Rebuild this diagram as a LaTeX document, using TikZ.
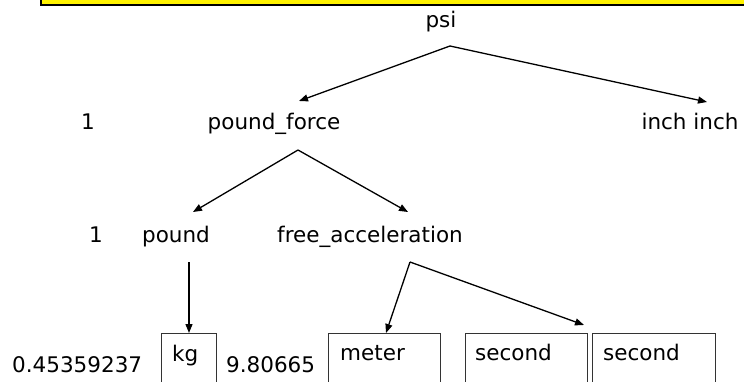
\documentclass[tikz,border=0pt]{standalone}
\usepackage{fontspec}
\setmainfont{DejaVu Sans}
\usetikzlibrary{arrows.meta}
\begin{document}
\begin{tikzpicture}[x=1pt,y=-1pt,
  txt/.style={inner sep=0pt,font=\fontsize{21.5}{26}\selectfont},
  conn/.style={line width=1.3pt,-{Triangle[length=9pt,width=7pt]}},
  plain/.style={line width=1.3pt},
  unitbox/.style={draw=black!80,line width=1pt,anchor=north west,inner sep=0pt}]
\useasboundingbox (0,0) rectangle (744,382);
% yellow banner
\node[draw=black,fill=yellow,line width=1.6pt,anchor=south west,minimum width=740pt,minimum height=40pt,inner sep=0pt] (banner) at (40,6) {};
% texts
\node[txt,anchor=base] (psi) at (441,28) {psi};
\node[txt,anchor=base] (one1) at (88,130) {1};
\node[txt,anchor=base] (pf) at (274,130) {pound\_force};
\node[txt,anchor=base] (inch) at (690,130) {inch inch};
\node[txt,anchor=base] (one2) at (96,243) {1};
\node[txt,anchor=base east] (pound) at (210,243) {pound};
\node[txt,anchor=base west] (fa) at (277,243) {free\_acceleration};
\node[txt,anchor=base west] (n1) at (12,372) {0.45359237};
\node[txt,anchor=base west] (n2) at (226,372) {9.80665};
% boxes
\node[unitbox,minimum width=55pt,minimum height=60pt] (kgbox) at (161,333) {};
\node[unitbox,minimum width=112pt,minimum height=60pt] (mbox) at (328,333) {};
\node[unitbox,minimum width=122pt,minimum height=60pt] (sbox1) at (465,333) {};
\node[unitbox,minimum width=123pt,minimum height=60pt] (sbox2) at (592,333) {};
\node[txt,anchor=base west] (kg) at (172,361) {kg};
\node[txt,anchor=base west] (meter) at (340,360) {meter};
\node[txt,anchor=base west] (sec1) at (475,360) {second};
\node[txt,anchor=base west] (sec2) at (603,360) {second};
% junction points and arrow tips
\coordinate (psiJ) at (450,46);
\coordinate (pfT) at (299,101);
\coordinate (inchT) at (707,102);
\coordinate (pfJ) at (298,150);
\coordinate (poundT) at (193,212);
\coordinate (faT) at (408,212);
\coordinate (poundJ) at (189,262);
\coordinate (kgT) at (189,333);
\coordinate (faJ) at (410,262);
\coordinate (mT) at (386,333);
\coordinate (sT) at (584,325);
% connectors
\draw[conn] (psiJ) -- (pfT);
\draw[conn] (psiJ) -- (inchT);
\draw[conn] (pfJ) -- (poundT);
\draw[conn] (pfJ) -- (faT);
\draw[conn] (poundJ) -- (kgT);
\draw[conn] (faJ) -- (mT);
\draw[conn] (faJ) -- (sT);
\end{tikzpicture}
\end{document}
